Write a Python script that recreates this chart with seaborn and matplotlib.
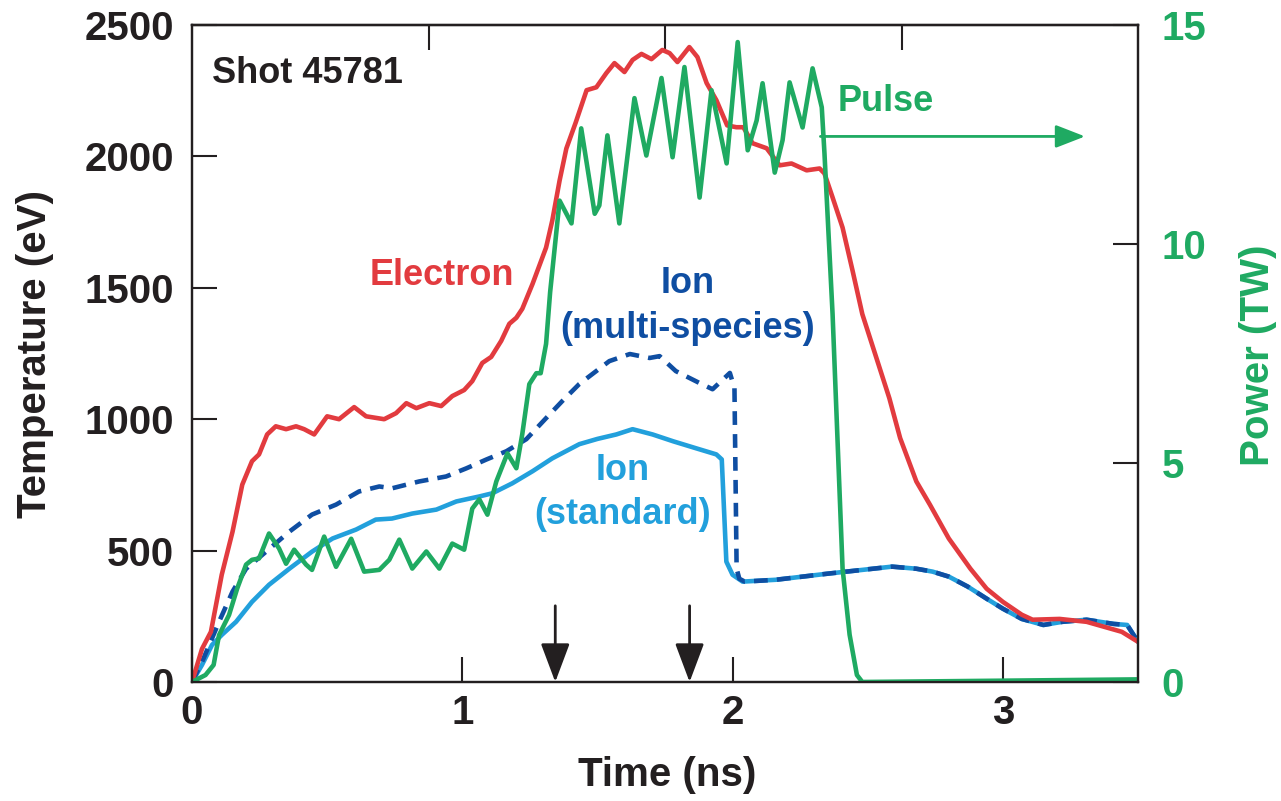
import numpy as np
import pandas as pd
import matplotlib
matplotlib.use("Agg")
import matplotlib.pyplot as plt
import seaborn as sns

# ---------------- data ----------------
t_e = [0.0, 0.037, 0.07, 0.11, 0.15, 0.186, 0.222, 0.248, 0.278, 0.31, 0.348, 0.385, 0.415, 0.452,
       0.5, 0.544, 0.6, 0.644, 0.711, 0.755, 0.793, 0.83, 0.878, 0.922, 0.963, 1.007, 1.037, 1.074,
       1.107, 1.144, 1.174, 1.2, 1.222, 1.26, 1.31, 1.333, 1.36, 1.385, 1.42, 1.46, 1.496, 1.533,
       1.563, 1.6, 1.63, 1.663, 1.7, 1.74, 1.767, 1.796, 1.84, 1.87, 1.904, 1.94, 1.98, 2.014, 2.04,
       2.074, 2.126, 2.174, 2.218, 2.274, 2.322, 2.34, 2.37, 2.407, 2.444, 2.48, 2.53, 2.58, 2.62,
       2.68, 2.73, 2.8, 2.88, 2.94, 3.0, 3.07, 3.11, 3.21, 3.31, 3.44, 3.5]
T_electron = [0, 126, 191, 408, 572, 751, 840, 866, 942, 973, 962, 973, 962, 942,
              1011, 1000, 1046, 1011, 1000, 1023, 1061, 1042, 1061, 1050, 1088, 1111, 1145, 1214,
              1237, 1298, 1363, 1386, 1420, 1515, 1653, 1756, 1908, 2030, 2130, 2252, 2263, 2317,
              2355, 2321, 2367, 2390, 2370, 2405, 2393, 2359, 2416, 2378, 2279, 2214, 2118, 2111, 2111,
              2050, 2031, 1966, 1973, 1947, 1954, 1935, 1844, 1729, 1565, 1400, 1240, 1080, 928,
              763, 675, 546, 431, 355, 305, 256, 237, 240, 229, 191, 153]

t_is = [0.0, 0.037, 0.074, 0.11, 0.163, 0.222, 0.285, 0.36, 0.444, 0.52, 0.607, 0.68, 0.74, 0.815,
        0.904, 0.978, 1.063, 1.111, 1.185, 1.26, 1.333, 1.433, 1.5, 1.57, 1.63, 1.704, 1.78, 1.866,
        1.94, 1.96, 1.977, 2.0, 2.037, 2.16, 2.35, 2.59, 2.68, 2.74, 2.8, 2.87, 2.94, 3.0, 3.07,
        3.15, 3.22, 3.31, 3.41, 3.46, 3.5]
T_ion_standard = [0, 65, 141, 179, 229, 305, 370, 431, 496, 546, 580, 618, 622, 641,
                  656, 687, 706, 718, 756, 802, 851, 905, 925, 942, 962, 942, 916, 889,
                  866, 847, 458, 408, 382, 389, 412, 439, 431, 420, 401, 363, 317, 279, 240,
                  217, 229, 237, 221, 217, 153]

t_im = [0.0, 0.037, 0.1, 0.15, 0.2, 0.274, 0.36, 0.444, 0.533, 0.618, 0.693, 0.74, 0.84, 0.94,
        1.015, 1.09, 1.163, 1.237, 1.31, 1.37, 1.433, 1.544, 1.62, 1.693, 1.73, 1.79, 1.877, 1.926,
        1.99, 2.007, 2.015, 2.025, 2.045, 2.16, 2.35, 2.59, 2.68, 2.74, 2.8, 2.87, 2.94, 3.0, 3.07,
        3.15, 3.22, 3.31, 3.41, 3.46, 3.5]
T_ion_multi = [0, 76, 229, 344, 431, 496, 572, 637, 675, 725, 744, 737, 763, 782,
               813, 847, 878, 924, 1004, 1069, 1134, 1221, 1248, 1233, 1240, 1183, 1138, 1114,
               1176, 1118, 431, 393, 382, 389, 412, 439, 431, 420, 401, 363, 317, 279, 240,
               217, 229, 237, 221, 217, 153]

t_p = [0.0, 0.05, 0.08, 0.1, 0.137, 0.167, 0.2, 0.222, 0.248, 0.285, 0.322, 0.348, 0.378, 0.422,
       0.444, 0.489, 0.533, 0.589, 0.637, 0.693, 0.73, 0.767, 0.815, 0.867, 0.915, 0.963, 1.007,
       1.037, 1.063, 1.093, 1.126, 1.167, 1.2, 1.222, 1.248, 1.274, 1.29, 1.31, 1.325, 1.36, 1.404,
       1.44, 1.49, 1.507, 1.537, 1.581, 1.637, 1.681, 1.737, 1.778, 1.822, 1.878, 1.922, 1.978,
       2.019, 2.056, 2.089, 2.111, 2.156, 2.185, 2.211, 2.259, 2.296, 2.33, 2.34, 2.37, 2.407,
       2.433, 2.46, 2.48, 3.0, 3.5]
P_pulse = [0.0, 0.16, 0.39, 1.07, 1.53, 2.13, 2.68, 2.79, 2.82, 3.39, 3.05, 2.70, 3.02, 2.68,
           2.56, 3.32, 2.63, 3.27, 2.52, 2.56, 2.79, 3.25, 2.59, 2.98, 2.59, 3.16, 3.02,
           3.96, 4.17, 3.82, 4.58, 5.22, 4.88, 5.66, 6.80, 7.05, 7.05, 7.72, 8.9, 10.99, 10.47,
           12.64, 10.69, 10.88, 12.48, 10.47, 13.33, 12.02, 13.79, 11.98, 14.04, 11.06, 13.51, 11.84,
           14.61, 12.14, 12.82, 13.67, 11.63, 12.37, 13.69, 12.66, 14.01, 13.12, 12.07, 8.4, 2.59,
           1.08, 0.16, 0.0, 0.03, 0.06]

arrow_times = [1.344, 1.841]

x_ticks = [0, 1, 2, 3]
y_ticks = [0, 500, 1000, 1500, 2000, 2500]
p_ticks = [0, 5, 10, 15]
top_ticks = [0.875, 1.75, 2.625]

# ---------------- style ----------------
sns.set_theme(style="white")
plt.rcParams["font.family"] = ["Liberation Sans", "DejaVu Sans"]
plt.rcParams["font.weight"] = "bold"

RED = "#E23B3F"
GREEN = "#1FAA62"
DBLUE = "#0F4EA2"
LBLUE = "#22A0DC"
BLACK = "#231F20"

fig = plt.figure(figsize=(12.81, 8.01), dpi=100)
ax = fig.add_axes([192 / 1281, 1 - 682 / 801, (1138 - 192) / 1281, (682 - 25) / 801])
ax2 = ax.twinx()

LW = 3.3
common = dict(estimator=None, sort=False, solid_joinstyle="round", solid_capstyle="round")
sns.lineplot(x=t_is, y=T_ion_standard, ax=ax, color=LBLUE, lw=LW, **common)
sns.lineplot(x=t_im, y=T_ion_multi, ax=ax, color=DBLUE, lw=LW, estimator=None, sort=False,
             linestyle=(0, (3.0, 2.0)))
sns.lineplot(x=t_e, y=T_electron, ax=ax, color=RED, lw=LW, **common)
sns.lineplot(x=t_p, y=P_pulse, ax=ax2, color=GREEN, lw=LW, **common)

ax.set_xlim(0, 3.5)
ax.set_ylim(0, 2500)
ax2.set_ylim(0, 15)

for a in (ax, ax2):
    for s in a.spines.values():
        s.set_color(BLACK)
        s.set_linewidth(1.6)

ax.set_xticks(x_ticks)
ax.set_yticks(y_ticks)
ax2.set_yticks(p_ticks)
ax.tick_params(axis="both", direction="in", length=18, width=1.5, colors=BLACK,
               labelsize=29, left=True, bottom=True, right=False, top=False)
ax.tick_params(axis="y", pad=13)
ax.tick_params(axis="x", pad=9)
ax2.tick_params(axis="y", direction="in", length=18, width=1.5, color=BLACK,
                labelcolor=GREEN, labelsize=29, pad=17, right=True)
for lab in ax.get_xticklabels() + ax.get_yticklabels() + ax2.get_yticklabels():
    lab.set_fontweight("bold")

sec = ax.secondary_xaxis("top")
sec.set_xticks(top_ticks)
sec.set_xticklabels([])
sec.tick_params(direction="in", length=18, width=1.5, color=BLACK)
sec.spines["top"].set_linewidth(1.6)

ax.set_xlabel("Time (ns)", fontsize=29, fontweight="bold", color=BLACK)
ax.set_ylabel("Temperature (eV)", fontsize=29, fontweight="bold", color=BLACK)
ax2.set_ylabel("Power (TW)", fontsize=29, fontweight="bold", color=GREEN)
ax.xaxis.label.set_va("center")
ax.yaxis.label.set_va("center")
ax2.yaxis.label.set_va("center")
ax.xaxis.set_label_coords(0.502, -0.142)
ax.yaxis.set_label_coords(-0.166, 0.5)
ax2.yaxis.set_label_coords(1.127, 0.498)

# annotations
ax.text(0.074, 2317, "Shot 45781", fontsize=26, fontweight="bold", color=BLACK, ha="left", va="center")
ax.text(0.926, 1546, "Electron", fontsize=26, fontweight="bold", color=RED, ha="center", va="center")
ax.text(1.833, 1515, "Ion", fontsize=26, fontweight="bold", color=DBLUE, ha="center", va="center")
ax.text(1.835, 1344, "(multi-species)", fontsize=26, fontweight="bold", color=DBLUE, ha="center", va="center")
ax.text(1.593, 805, "Ion", fontsize=26, fontweight="bold", color=LBLUE, ha="center", va="center")
ax.text(1.593, 637, "(standard)", fontsize=26, fontweight="bold", color=LBLUE, ha="center", va="center")
ax.text(2.567, 2210, "Pulse", fontsize=26, fontweight="bold", color=GREEN, ha="center", va="center")

ax.annotate("", xy=(3.304, 2076), xytext=(2.325, 2076),
            arrowprops=dict(arrowstyle="-|>,head_length=0.9,head_width=0.35", lw=2, color=GREEN,
                            mutation_scale=20, shrinkA=0, shrinkB=0), zorder=5)
for ta in arrow_times:
    ax.annotate("", xy=(ta, 0), xytext=(ta, 290),
                arrowprops=dict(arrowstyle="-|>,head_length=1.2,head_width=0.45", lw=2, color=BLACK,
                                mutation_scale=20, shrinkA=0, shrinkB=0), zorder=5)

fig.savefig("out.png", dpi=100, facecolor="white")
